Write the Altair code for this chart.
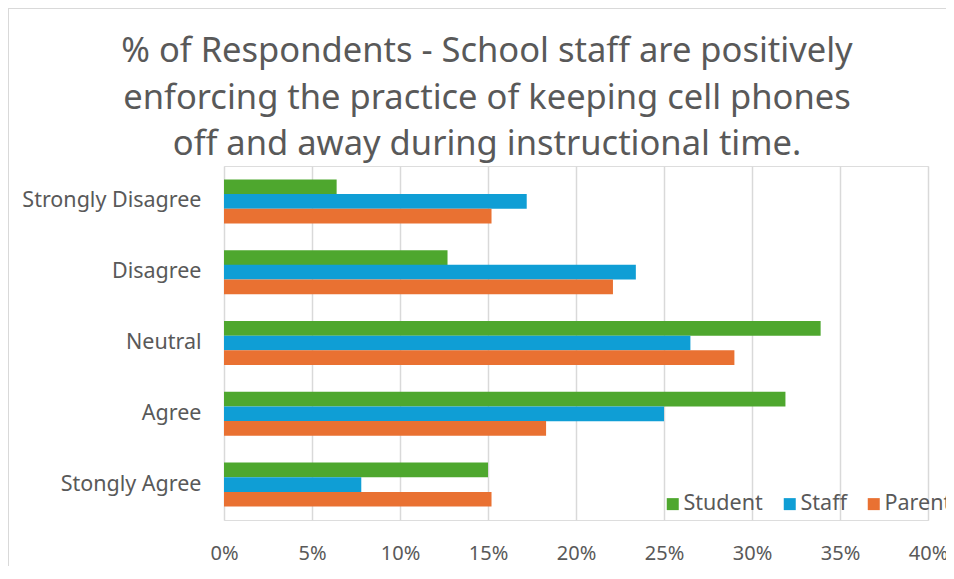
import altair as alt
import pandas as pd

categories = ["Strongly Disagree", "Disagree", "Neutral", "Agree", "Stongly Agree"]
series = ["Student", "Staff", "Parent"]
colors = ["#4EA72E", "#0F9ED5", "#E97132"]
student = [6.4, 12.7, 33.9, 31.9, 15.0]
staff = [17.2, 23.4, 26.5, 25.0, 7.8]
parent = [15.2, 22.1, 29.0, 18.3, 15.2]
x_ticks = [0, 0.05, 0.10, 0.15, 0.20, 0.25, 0.30, 0.35, 0.40]
title_lines = [
    "% of Respondents - School staff are positively",
    "enforcing the practice of keeping cell phones",
    "off and away during instructional time.",
]

rows = []
for name, vals in zip(series, [student, staff, parent]):
    for c, v in zip(categories, vals):
        rows.append({"category": c, "series": name, "value": v / 100.0})
df = pd.DataFrame(rows)

FONT = "Noto Sans"
GREY = "#595959"

bars = alt.Chart(df).mark_bar(size=14.7).encode(
    x=alt.X("value:Q",
            scale=alt.Scale(domain=[0, 0.4], nice=False),
            axis=alt.Axis(values=x_ticks, format=".0%", title=None, grid=True,
                          gridColor="#d9d9d9", gridWidth=1.5, domain=False, ticks=False,
                          labelFontSize=20, labelColor=GREY, labelFont=FONT,
                          labelPadding=23, labelFlush=False)),
    y=alt.Y("category:N", sort=categories,
            scale=alt.Scale(paddingInner=0.38, paddingOuter=0.19),
            axis=alt.Axis(title=None, domain=False, ticks=False, grid=False,
                          labelFontSize=21.5, labelColor=GREY, labelFont=FONT,
                          labelPadding=23)),
    yOffset=alt.YOffset("series:N", sort=series,
                        scale=alt.Scale(paddingInner=0, paddingOuter=0)),
    color=alt.Color("series:N", sort=series,
                    scale=alt.Scale(domain=series, range=colors),
                    legend=alt.Legend(title=None, orient="none", direction="horizontal",
                                      legendX=438, legendY=327,
                                      symbolType="square", symbolSize=144,
                                      symbolStrokeWidth=0, labelFontSize=21.5,
                                      labelColor=GREY, labelFont=FONT,
                                      columnPadding=16, labelOffset=0, padding=0)),
)

frame_data = alt.Data(values=[{"k": 1}])
left_border = alt.Chart(frame_data).mark_rule(color="#d9d9d9", strokeWidth=1).encode(
    x=alt.value(-215.5), y=alt.value(-158), y2=alt.value(420))
top_border = alt.Chart(frame_data).mark_rule(color="#d9d9d9", strokeWidth=1).encode(
    x=alt.value(-216), x2=alt.value(760), y=alt.value(-157.5))

chart = alt.layer(bars, left_border, top_border).properties(
    width=704, height=354,
    autosize=alt.AutoSizeParams(type="none"),
    padding={"left": 216, "top": 158, "right": 18, "bottom": 46},
    title=alt.TitleParams(text=title_lines, fontSize=34.5, font=FONT, color=GREY,
                          fontWeight="normal", lineHeight=46.5, anchor="middle",
                          dx=-89, offset=0, dy=155),
).configure_view(stroke=None).configure(background="white")

chart.save("out.html", embed_options={"renderer": "svg", "actions": False})
